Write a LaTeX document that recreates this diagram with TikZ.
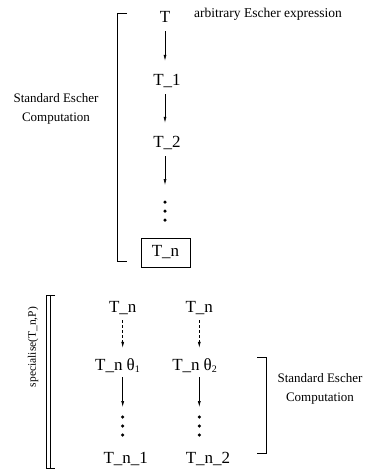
\documentclass[tikz,border=0pt]{standalone}
\usepackage{fontspec}
\setmainfont{Liberation Serif}
\usetikzlibrary{arrows.meta}
\newcommand{\thsub}[1]{θ\raisebox{-2.5pt}{\fontsize{10}{11}\selectfont #1}}
\begin{document}
\begin{tikzpicture}[x=1pt,y=-1pt,
  big/.style={font=\fontsize{17}{20}\selectfont, inner sep=0pt, text height=11pt, text depth=3pt, anchor=base},
  small/.style={font=\fontsize{13}{19}\selectfont, align=center, inner sep=0pt},
  arr/.style={-{Latex[length=6pt,width=3pt]}, line width=0.65pt},
  dotn/.style={circle, fill, inner sep=0pt, minimum size=3.5pt},
  brk/.style={line width=0.8pt}]
\useasboundingbox (0,0) rectangle (368,469);
% ---------- top section ----------
\node[big] (T) at (165,22) {T};
\node[small, font=\fontsize{13.5}{19}\selectfont, anchor=base west] (arb) at (194,17) {arbitrary Escher expression};
\node[big] (T1) at (167,85) {T\_1};
\node[big] (T2) at (167,147) {T\_2};
\node[dotn] (d1) at (165,202) {};
\node[dotn] (d2) at (165,211) {};
\node[dotn] (d3) at (165,220) {};
\node[draw, line width=0.7pt, font=\fontsize{17}{20}\selectfont, text height=11pt, text depth=3pt,
      inner sep=0pt, minimum width=49pt, minimum height=29pt] (Tn) at (165.5,252.5) {T\_n};
\draw[arr, shorten <=6pt, shorten >=13pt] (T) -- (T |- T1.north);
\draw[arr, shorten <=6pt, shorten >=13pt] (T1.south -| T) -- (T |- T2.north);
\draw[arr, shorten <=6pt, shorten >=15pt] (T2.south -| d1) -- (d1);
\draw[brk] (127,13) coordinate (b1) -- (117,13) -- (117,261) -- (127,261) coordinate (b2);
\node[small] (lab1) at (56,109) {Standard Escher\\Computation};
% ---------- bottom section ----------
\node[big] (Tna) at (122.7,312) {T\_n};
\node[big] (Tnb) at (199.3,312) {T\_n};
\node[big] (Tha) at (117.5,370) {T\_n\hspace{4pt}\thsub{1}};
\node[big] (Thb) at (194.6,370) {T\_n\hspace{4pt}\thsub{2}};
\node[dotn] (e1) at (122.7,417) {};
\node[dotn] (e2) at (122.7,426) {};
\node[dotn] (e3) at (122.7,435) {};
\node[dotn] (f1) at (199.3,417) {};
\node[dotn] (f2) at (199.3,426) {};
\node[dotn] (f3) at (199.3,435) {};
\node[big] (Tn1) at (125.8,463) {T\_n\_1};
\node[big] (Tn2) at (208,463) {T\_n\_2};
\draw[arr, dash pattern=on 3pt off 2pt, shorten <=5pt, shorten >=11pt] (Tna.south) -- (Tna.south |- Tha.north);
\draw[arr, dash pattern=on 3pt off 2pt, shorten <=5pt, shorten >=11pt] (Tnb.south) -- (Tnb.south |- Thb.north);
\draw[arr, shorten <=4pt, shorten >=8pt] (Tha.south -| e1) -- (e1);
\draw[arr, shorten <=4pt, shorten >=8pt] (Thb.south -| f1) -- (f1);
\draw[brk] (55,295) -- (46.7,295) -- (46.7,468) -- (55,468);
\draw[brk] (50,295) -- (50,468);
\node[font=\fontsize{11.5}{12}\selectfont, rotate=90, inner sep=0pt] (spec) at (33,347) {specialise(T\_n,P)};
\draw[brk] (257.3,357.7) -- (266.7,357.7) -- (266.7,453.3) -- (257.3,453.3);
\node[small] (lab2) at (320,389) {Standard Escher\\Computation};
\end{tikzpicture}
\end{document}
